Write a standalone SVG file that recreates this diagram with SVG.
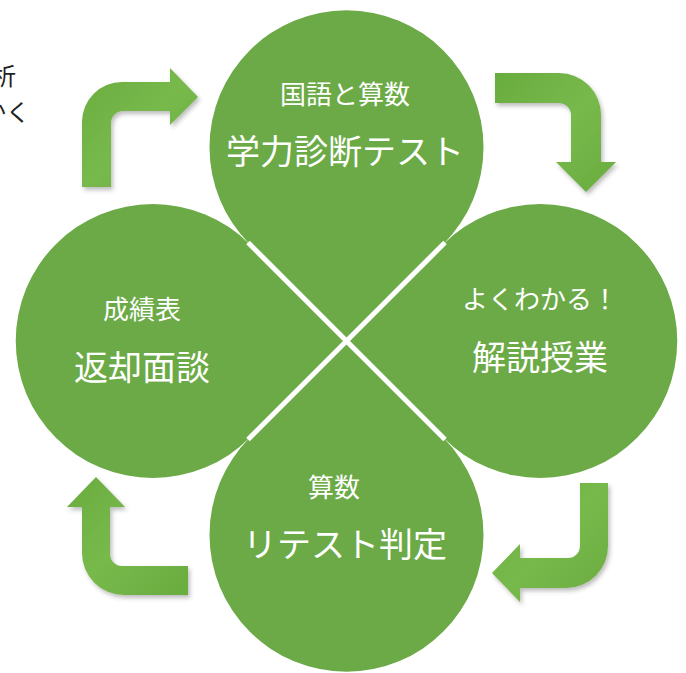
<svg xmlns="http://www.w3.org/2000/svg" xmlns:xlink="http://www.w3.org/1999/xlink" width="686" height="673" viewBox="0 0 686 673">
  <style>
    .petal { fill: #6BAA46; }
    .sub { font-family: "Noto Sans CJK JP", "Noto Sans", sans-serif; font-size: 26px; fill: #ffffff; text-anchor: middle; }
    .main { font-family: "Noto Sans CJK JP", "Noto Sans", sans-serif; font-size: 34px; fill: #ffffff; text-anchor: middle; }
    .side { font-family: "Noto Sans CJK JP", "Noto Sans", sans-serif; font-size: 24px; fill: #222222; text-anchor: end; }
    .arrow { fill: url(#arrowGrad); filter: url(#shadow); }
    .gap { stroke: #ffffff; stroke-width: 5; }
  </style>
  <defs>
    <path id="petal" d="M0,0 L96.87,-96.87 A137,137 0 1 0 -96.87,-96.87 Z"/>
    <linearGradient id="arrowGrad" x1="0" y1="0" x2="1" y2="1">
      <stop offset="0" stop-color="#69AC3E"/>
      <stop offset="0.5" stop-color="#78B94C"/>
      <stop offset="1" stop-color="#69AC3E"/>
    </linearGradient>
    <filter id="shadow" x="-20%" y="-20%" width="140%" height="140%">
      <feDropShadow dx="2" dy="3" stdDeviation="2" flood-color="#404040" flood-opacity="0.35"/>
    </filter>
  </defs>
  <rect width="686" height="673" fill="#ffffff"/>

  <g id="side-text">
    <text class="side" x="16" y="85">析</text>
    <text class="side" x="30" y="121">かく</text>
  </g>

  <g id="node-test">
    <use xlink:href="#petal" class="petal" transform="translate(346.5,341)"/>
    <text class="sub" x="345" y="104">国語と算数</text>
    <text class="main" x="345" y="164">学力診断テスト</text>
  </g>
  <g id="node-class">
    <use xlink:href="#petal" class="petal" transform="translate(346.5,341) rotate(90)"/>
    <text class="sub" x="540" y="309">よくわかる！</text>
    <text class="main" x="540" y="370">解説授業</text>
  </g>
  <g id="node-retest">
    <use xlink:href="#petal" class="petal" transform="translate(346.5,341) rotate(180)"/>
    <text class="sub" x="334" y="497">算数</text>
    <text class="main" x="345" y="557">リテスト判定</text>
  </g>
  <g id="node-report">
    <use xlink:href="#petal" class="petal" transform="translate(346.5,341) rotate(270)"/>
    <text class="sub" x="142" y="319">成績表</text>
    <text class="main" x="142" y="380">返却面談</text>
  </g>

  <g id="gaps">
    <line class="gap" x1="248" y1="242.5" x2="445" y2="439.5"/>
    <line class="gap" x1="445" y1="242.5" x2="248" y2="439.5"/>
  </g>

  <g id="connectors">
    <path class="arrow" d="M82,187 L82,122 A40,40 0 0 1 122,82 L170,82 L170,68 L198,97 L170,125 L170,111 L123,111 A12,12 0 0 0 111,123 L111,187 Z"/>
    <path class="arrow" d="M495,73 L559,73 A42,42 0 0 1 601,115 L601,162 L616,162 L586,192 L556,162 L571,162 L571,115 A12,12 0 0 0 559,103 L495,103 Z"/>
    <path class="arrow" d="M580,483 L608,483 L608,546 A42,42 0 0 1 566,588 L520,588 L520,602 L492,573 L520,544 L520,558 L568,558 A12,12 0 0 0 580,546 Z"/>
    <path class="arrow" d="M188,566 L122,566 A12,12 0 0 1 110,554 L110,507 L125,507 L96,477 L67,507 L82,507 L82,553 A42,42 0 0 0 124,595 L188,595 Z"/>
  </g>
</svg>
